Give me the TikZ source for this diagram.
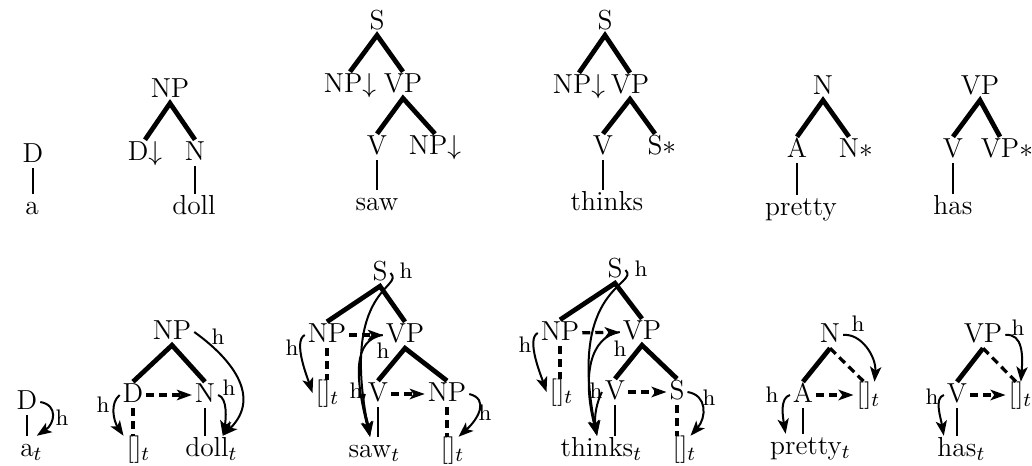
\documentclass[tikz,border=0pt]{standalone}
\usepackage{amsmath}
\usepackage{tikz}
\usetikzlibrary{arrows.meta}

\begin{document}
\begin{tikzpicture}[x=.4pt, y=-.4pt,
	cat/.style={font=\fontsize{11}{13}\selectfont, inner xsep=1pt, inner ysep=1pt, text height=1.6ex, text depth=.3ex},
	hlab/.style={font=\fontsize{9}{10}\selectfont, inner sep=.5pt},
	treeedge/.style={line width=1.9pt},
	leafedge/.style={line width=1.1pt},
	traceedge/.style={line width=1.3pt, dash pattern=on 3.2pt off 2pt},
	tracearrow/.style={traceedge, -{Stealth[length=6pt, width=4.2pt, inset=1.5pt]}},
	harrow/.style={line width=.8pt, -{Stealth[length=6pt, width=4.5pt, inset=1.5pt]}}]
	% draw frame
	\useasboundingbox (0,0) rectangle (1032,466);
	
	% --- elementary trees (top row) ---
	% a
	\node[cat] (tD) at (33,155) {D};
	\node[cat] (ta) at (32,207) {a};
	\draw[leafedge] (tD) -- (tD |- ta.north);
	
	% doll
	\node[cat] (tNPb) at (170,90) {NP};
	\node[cat] (tDb) at (145,153) {D$\downarrow$};
	\node[cat] (tNb) at (195,153) {N};
	\node[cat] (tdoll) at (194,207) {doll};
	\draw[treeedge] (tDb.north) -- (tNPb.south) -- (tNb.north);
	\draw[leafedge] (tNb) -- (tNb |- tdoll.north);
	
	% saw
	\node[cat] (tSc) at (377,22) {S};
	\node[cat] (tNPc) at (350,85) {NP$\downarrow$};
	\node[cat] (tVPc) at (403,85) {VP};
	\node[cat] (tVc) at (377,147) {V};
	\node[cat] (tNPc2) at (435,147) {NP$\downarrow$};
	\node[cat] (tsaw) at (377,203) {saw};
	\draw[treeedge] (tNPc.north) -- (tSc.south) -- (tVPc.north);
	\draw[treeedge] (tVc.north) -- (tVPc.south) -- (tNPc2.north);
	\draw[leafedge] (tVc) -- (tVc |- tsaw.north);
	
	% thinks
	\node[cat] (tSd) at (605,22) {S};
	\node[cat] (tNPd) at (579,86) {NP$\downarrow$};
	\node[cat] (tVPd) at (630,86) {VP};
	\node[cat] (tVd) at (603,147) {V};
	\node[cat] (tSd2) at (655,147) {S\rlap{$\ast$}};
	\node[cat] (tthinks) at (607,203) {thinks};
	\draw[treeedge] (tNPd.north) -- (tSd.south) -- (tVPd.north);
	\draw[treeedge] (tVd.north) -- (tVPd.south) -- (tSd2.north);
	\draw[leafedge] (tVd) -- (tVd |- tthinks.north);
	
	% pretty
	\node[cat] (tNe) at (823,87) {N};
	\node[cat] (tAe) at (797,150) {A};
	\node[cat] (tNe2) at (849,150) {N\rlap{$\ast$}};
	\node[cat] (tpretty) at (801,208) {pretty};
	\draw[treeedge] (tAe.north) -- (tNe.south) -- (tNe2.north);
	\draw[leafedge] (tAe) -- (tAe |- tpretty.north);
	
	% has
	\node[cat] (tVPf) at (980,87) {VP};
	\node[cat] (tVf) at (953,150) {V};
	\node[cat] (tVPf2) at (1000,150) {VP\rlap{$\ast$}};
	\node[cat] (thas) at (953,207) {has};
	\draw[treeedge] (tVf.north) -- (tVPf.south) -- (tVPf2.north);
	\draw[leafedge] (tVf) -- (tVf |- thas.north);
	
	% --- trees with head arrows (bottom row) ---
	% a
	\node[cat] (bD) at (27,402) {D};
	\node[cat] (ba) at (27,449) {a\rlap{$_t$}};
	\draw[leafedge] (bD) -- (bD |- ba.north);
	\draw[harrow] (bD.east) .. controls +(18,3) and +(18,-12) .. (ba.north east);
	\node[hlab] (hbD) at (62,418) {h};
	
	% doll
	\node[cat] (bNPb) at (172,332) {NP};
	\node[cat] (bDb) at (133,395) {D};
	\node[cat] (bNb) at (205,395) {N};
	\node[cat] (bEb) at (134,449) {[]\rlap{$_t$}};
	\node[cat] (bdoll) at (207,449) {doll\rlap{$_t$}};
	\draw[treeedge] (bDb.north) -- (bNPb.south) -- (bNb.north);
	\draw[tracearrow] (bDb) -- (bNb);
	\draw[traceedge] (bDb) -- (bDb |- bEb.north);
	\draw[leafedge] (bNb) -- (bNb |- bdoll.north);
	\draw[harrow] (bDb.west) .. controls +(-10,8) and +(-10,-15) .. (bEb.north west);
	\draw[harrow] (bNb.east) .. controls +(10,3) and +(3,-15) .. (bdoll.40);
	\draw[harrow] (bNPb.east) .. controls +(35,25) and +(40,-40) .. (bdoll.40);
	\node[hlab] (hbDb) at (103,405) {h};
	\node[hlab] (hbNb) at (229,388) {h};
	\node[hlab] (hbNPb) at (218,337) {h};
	
	% saw
	\node[cat] (bSc) at (380,273) {S};
	\node[cat] (bNPc) at (327,335) {NP};
	\node[cat] (bVPc) at (405,335) {VP};
	\node[cat] (bEc) at (323,393) {[]\rlap{$_t$}};
	\node[cat] (bVc) at (378,394) {V};
	\node[cat] (bNPc2) at (447,394) {NP};
	\node[cat] (bsaw) at (370,450) {saw\rlap{$_t$}};
	\node[cat] (bEc2) at (448,450) {[]\rlap{$_t$}};
	\draw[treeedge] (bNPc.north) -- (bSc.south) -- (bVPc.north);
	\draw[treeedge] (bVc.north) -- (bVPc.south) -- (bNPc2.north);
	\draw[tracearrow] (bNPc) -- (bVPc);
	\draw[tracearrow] (bVc) -- (bNPc2);
	\draw[traceedge] (bNPc) -- (bNPc |- bEc.north);
	\draw[traceedge] (bNPc2) -- (bNPc2 |- bEc2.north);
	\draw[leafedge] (bVc) -- (bVc |- bsaw.north);
	\draw[harrow] (bNPc.west) .. controls +(-12,6) and +(-5,-15) .. (bEc.west);
	\draw[harrow] (bSc.east) .. controls +(15,15) and +(-30,-150) .. (bsaw.north);
	\draw[harrow] (bVPc.west) .. controls +(-30,5) and +(-15,-60) .. (bsaw.north);
	\draw[harrow] (bVc.west) .. controls +(-5,10) and +(-3,-20) .. (bsaw.north);
	\draw[harrow] (bNPc2.east) .. controls +(20,5) and +(20,-18) .. (bEc2.north east);
	\node[hlab] (hbSc) at (406,271) {h};
	\node[hlab] (hbNPc) at (292,348) {h};
	\node[hlab] (hbVPc) at (383,351) {h};
	\node[hlab] (hbVc) at (356,391) {h};
	\node[hlab] (hbNPc2) at (485,413) {h};
	
	% thinks
	\node[cat] (bSd) at (615,270) {S};
	\node[cat] (bNPd) at (560,333) {NP};
	\node[cat] (bVPd) at (642,332) {VP};
	\node[cat] (bEd) at (557,392) {[]\rlap{$_t$}};
	\node[cat] (bVd) at (615,392) {V};
	\node[cat] (bSd2) at (677,392) {S};
	\node[cat] (bthinks) at (597,449) {thinks\rlap{$_t$}};
	\node[cat] (bEd2) at (680,449) {[]\rlap{$_t$}};
	\draw[treeedge] (bNPd.north) -- (bSd.south) -- (bVPd.north);
	\draw[treeedge] (bVd.north) -- (bVPd.south) -- (bSd2.north);
	\draw[tracearrow] (bNPd) -- (bVPd);
	\draw[tracearrow] (bVd) -- (bSd2);
	\draw[traceedge] (bNPd) -- (bNPd |- bEd.north);
	\draw[traceedge] (bSd2) -- (bSd2 |- bEd2.north);
	\draw[leafedge] (bVd) -- (bVd |- bthinks.north);
	\draw[harrow] (bNPd.west) .. controls +(-12,6) and +(-5,-15) .. (bEd.west);
	\draw[harrow] (bSd.east) .. controls +(15,15) and +(-30,-150) .. (bthinks.north);
	\draw[harrow] (bVPd.west) .. controls +(-30,5) and +(-15,-60) .. (bthinks.north);
	\draw[harrow] (bVd.west) .. controls +(-5,10) and +(-3,-20) .. (bthinks.north);
	\draw[harrow] (bSd2.east) .. controls +(20,3) and +(16,-18) .. (bEd2.north east);
	\node[hlab] (hbSd) at (641,269) {h};
	\node[hlab] (hbNPd) at (525,345) {h};
	\node[hlab] (hbVPd) at (620,349) {h};
	\node[hlab] (hbVd) at (596,391) {h};
	\node[hlab] (hbSd2) at (709,398) {h};
	
	% pretty
	\node[cat] (bNe) at (830,335) {N};
	\node[cat] (bAe) at (803,395) {A};
	\node[cat] (bEe) at (864,395) {[]\rlap{$_t$}};
	\node[cat] (bpretty) at (806,447) {pretty\rlap{$_t$}};
	\draw[treeedge] (bNe.south) -- (bAe.north);
	\draw[traceedge] (bNe.south) -- (bEe.north);
	\draw[tracearrow] (bAe) -- (bEe);
	\draw[leafedge] (bAe) -- (bAe |- bpretty.north);
	\draw[harrow] (bNe.east) .. controls +(18,-2) and +(2,-25) .. (bEe.north east);
	\draw[harrow] (bAe.west) .. controls +(-10,3) and +(-3,-18) .. (bpretty.147);
	\node[hlab] (hbNe) at (858,324) {h};
	\node[hlab] (hbAe) at (772,395) {h};
	
	% has
	\node[cat] (bVPf) at (983,335) {VP};
	\node[cat] (bVf) at (957,395) {V};
	\node[cat] (bEf) at (1016,395) {[]\rlap{$_t$}};
	\node[cat] (bhas) at (957,449) {has\rlap{$_t$}};
	\draw[treeedge] (bVPf.south) -- (bVf.north);
	\draw[traceedge] (bVPf.south) -- (bEf.north);
	\draw[tracearrow] (bVf) -- (bEf);
	\draw[leafedge] (bVf) -- (bVf |- bhas.north);
	\draw[harrow] (bVPf.east) .. controls +(18,-2) and +(2,-25) .. (bEf.70);
	\draw[harrow] (bVf.west) .. controls +(-10,3) and +(-3,-18) .. (bhas.135);
	\node[hlab] (hbVPf) at (1018,328) {h};
	\node[hlab] (hbVf) at (932,397) {h};
\end{tikzpicture}
\end{document}
